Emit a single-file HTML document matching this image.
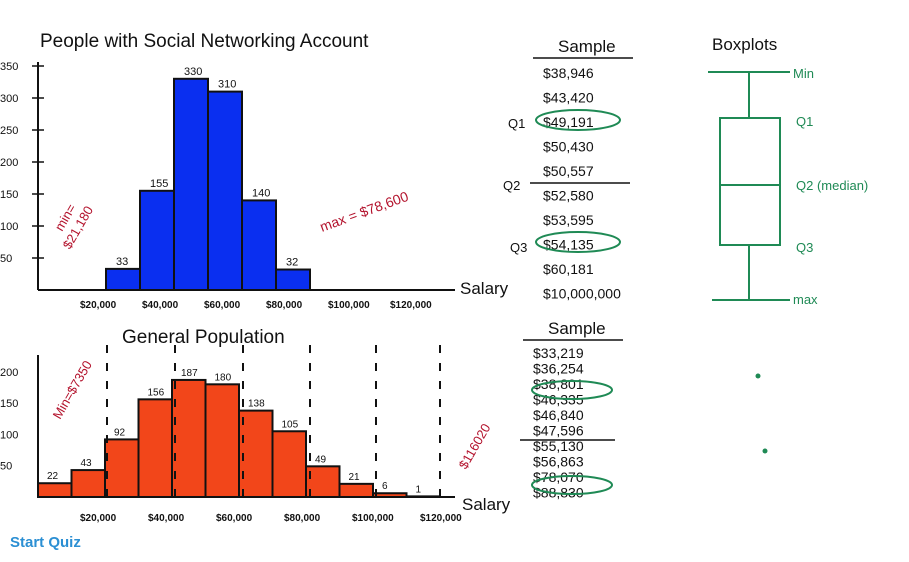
<!DOCTYPE html>
<html><head><meta charset="utf-8"><style>
body{margin:0;background:#fff;width:909px;height:562px;overflow:hidden;font-family:"Liberation Sans",sans-serif}
svg{position:absolute;left:0;top:0}
.t{font-family:"Liberation Sans",sans-serif;fill:#111}
#quiz{position:absolute;left:10px;top:534px;color:#2b8fd3;font-size:15px;font-weight:bold}
</style></head><body>
<svg id="chart" width="909" height="562"></svg>
<div id="quiz">Start Quiz</div>
<script>
const topCats=["$20,000","$30,000","$40,000","$50,000","$60,000","$70,000"];
const topVals=[33,155,330,310,140,32];
const topTicks=[50,100,150,200,250,300,350];
const botVals=[22,43,92,156,187,180,138,105,49,21,6,1];
const botTicks=[50,100,150,200];
const topSample=["$38,946","$43,420","$49,191","$50,430","$50,557","$52,580","$53,595","$54,135","$60,181","$10,000,000"];
const botSample=["$33,219","$36,254","$38,801","$46,335","$46,840","$47,596","$55,130","$56,863","$78,070","$88,830"];
const svg=document.getElementById('chart');const NS='http://www.w3.org/2000/svg';
function el(tag,a,txt){const e=document.createElementNS(NS,tag);for(const k in a)e.setAttribute(k,a[k]);if(txt!==undefined)e.textContent=txt;svg.appendChild(e);return e;}
// top axes
const tY=v=>290-v*0.64, tX=i=>106+i*34;
const tyAxis=el('line',{x1:38,y1:290,x2:38,y2:62,stroke:'#111','stroke-width':2});

const txAxis=el('line',{x1:38,y1:290,x2:455,y2:290,stroke:'#111','stroke-width':2});

topTicks.forEach(v=>{const t=el('text',{x:0,y:tY(v)+4,'font-size':11,class:'t'},String(v));

el('line',{x1:32,x2:44,y1:tY(v),y2:tY(v),stroke:'#111','stroke-width':1.5});});
topVals.forEach((v,i)=>{const r=el('rect',{x:tX(i),y:tY(v),width:34,height:290-tY(v),fill:'#0a2ff0',stroke:'#111','stroke-width':2});

const l=el('text',{x:tX(i)+10,y:tY(v)-4,'font-size':11,class:'t'},String(v));
});
["$20,000","$40,000","$60,000","$80,000","$100,000","$120,000"].forEach((s,i)=>{const t=el('text',{x:80+i*62,y:308,'font-size':10,class:'t','font-weight':'bold'},s);
});
let e=el('text',{x:40,y:47,'font-size':19,class:'t'},"People with Social Networking Account");
e=el('text',{x:460,y:294,'font-size':17,class:'t'},"Salary");
e=el('text',{x:0,y:0,'font-size':13,fill:'#b3122c',transform:'translate(62,232) rotate(-60)'},"min=");
el('text',{x:0,y:0,'font-size':13,fill:'#b3122c',transform:'translate(70,250) rotate(-60)'},"$21,180");
e=el('text',{x:0,y:0,'font-size':14,fill:'#b3122c',transform:'translate(322,232) rotate(-20)'},"max = $78,600");
// bottom
const bY=v=>497-v*0.626, bX=i=>38+i*33.5;
e=el('line',{x1:38,y1:497,x2:38,y2:355,stroke:'#111','stroke-width':2});
e=el('line',{x1:38,y1:497,x2:455,y2:497,stroke:'#111','stroke-width':2});
botTicks.forEach(v=>{const t=el('text',{x:0,y:bY(v)+4,'font-size':11,class:'t'},String(v));
});
botVals.forEach((v,i)=>{const r=el('rect',{x:bX(i),y:bY(v),width:33.5,height:497-bY(v),fill:'#f2461a',stroke:'#111','stroke-width':2});

const l=el('text',{x:bX(i)+9,y:bY(v)-4,'font-size':10,class:'t'},String(v));
});
[107,175,243,310,376,440].forEach(x=>el('line',{x1:x,x2:x,y1:345,y2:497,stroke:'#111','stroke-width':2,'stroke-dasharray':'8 10'}));
["$20,000","$40,000","$60,000","$80,000","$100,000","$120,000"].forEach((s,i)=>{const t=el('text',{x:80+i*68,y:521,'font-size':10,class:'t','font-weight':'bold'},s);
});
e=el('text',{x:122,y:343,'font-size':19,class:'t'},"General Population");
e=el('text',{x:462,y:510,'font-size':17,class:'t'},"Salary");
el('text',{x:0,y:0,'font-size':13,fill:'#b3122c',transform:'translate(60,420) rotate(-60)'},"Min=$7350");
el('text',{x:0,y:0,'font-size':13,fill:'#b3122c',transform:'translate(466,470) rotate(-60)'},"$116020");
// samples
function list(arr,x,y0,dy,title,ty,name){let t=el('text',{x:x+15,y:ty,'font-size':17,class:'t'},title);
el('line',{x1:x-10,x2:x+90,y1:ty+6,y2:ty+6,stroke:'#111','stroke-width':1.5});
arr.forEach((s,i)=>{const q=el('text',{x:x,y:y0+i*dy,'font-size':14,class:'t'},s);});}
list(topSample,543,78,24.5,"Sample",52,'top-sample');
el('line',{x1:530,x2:630,y1:183,y2:183,stroke:'#111','stroke-width':1.5});
[[578,120],[578,242]].forEach(([cx,cy])=>el('ellipse',{cx,cy,rx:42,ry:10,fill:'none',stroke:'#1f8a55','stroke-width':2}));
el('text',{x:508,y:128,'font-size':13,class:'t'},"Q1");el('text',{x:503,y:190,'font-size':13,class:'t'},"Q2");el('text',{x:510,y:252,'font-size':13,class:'t'},"Q3");
list(botSample,533,358,15.5,"Sample",334,'bottom-sample');
el('line',{x1:520,x2:615,y1:440,y2:440,stroke:'#111','stroke-width':1.5});
[[572,390],[572,485]].forEach(([cx,cy])=>el('ellipse',{cx,cy,rx:40,ry:9,fill:'none',stroke:'#1f8a55','stroke-width':2}));
// boxplot
e=el('text',{x:712,y:50,'font-size':17,class:'t'},"Boxplots");
const g=[['line',{x1:708,x2:790,y1:72,y2:72}],['line',{x1:749,x2:749,y1:72,y2:118}],['rect',{x:720,y:118,width:60,height:127,fill:'none'}],['line',{x1:720,x2:780,y1:185,y2:185}],['line',{x1:749,x2:749,y1:245,y2:300}],['line',{x1:712,x2:790,y1:300,y2:300}]];
g.forEach(([t,a])=>{a.stroke='#1f8a55';a['stroke-width']=2;const b=el(t,a);});
[["Min",793,78],["Q1",796,126],["Q2 (median)",796,190],["Q3",796,252],["max",793,304]].forEach(([s,x,y])=>el('text',{x,y,'font-size':13,fill:'#1f8a55'},s));
el('circle',{cx:758,cy:376,r:2.5,fill:'#1f8a55'});el('circle',{cx:765,cy:451,r:2.5,fill:'#1f8a55'});
</script>
</body></html>
